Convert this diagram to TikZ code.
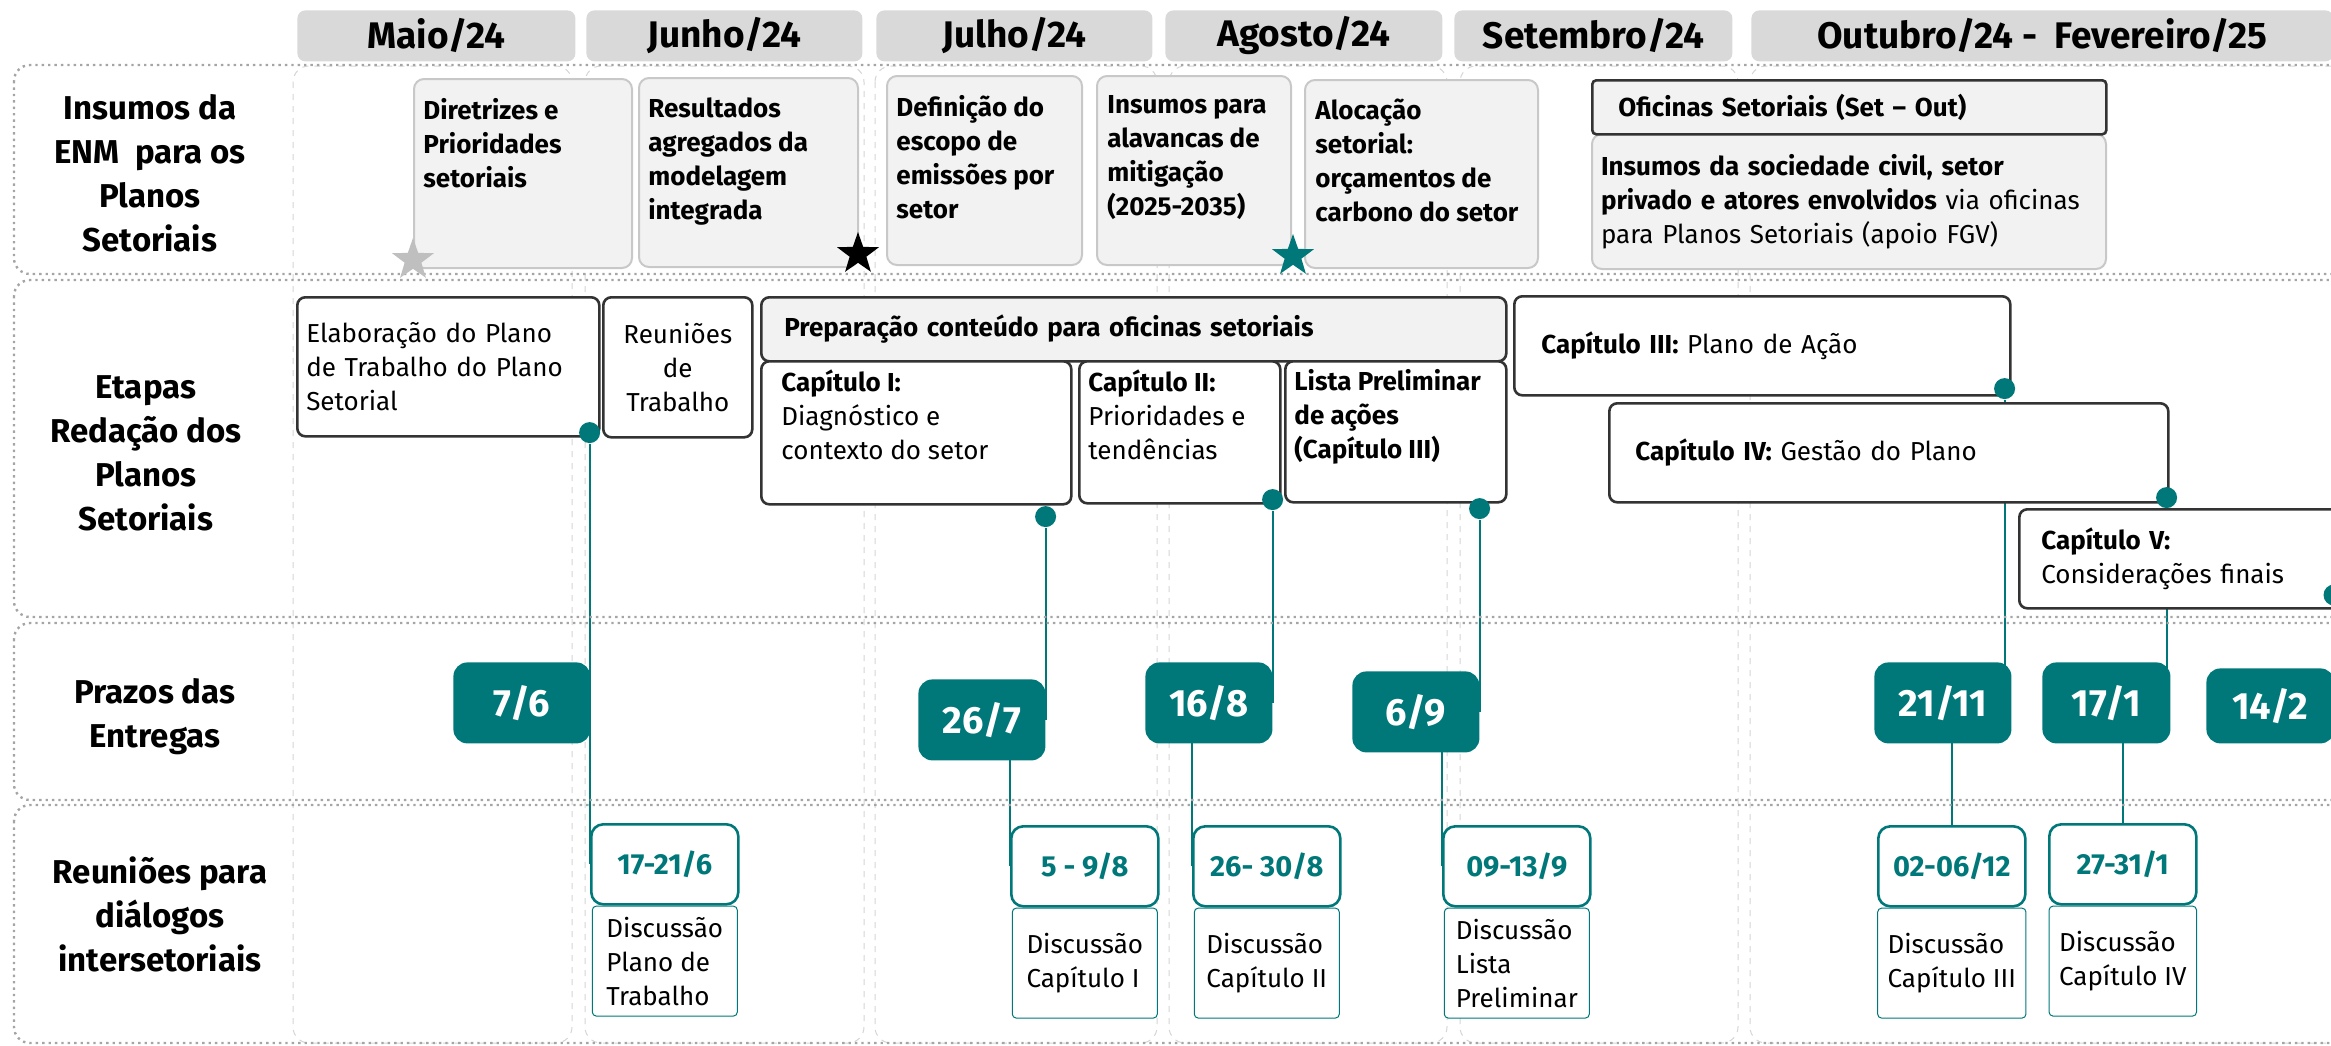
\documentclass[tikz,border=0pt]{standalone}
\usepackage{fontspec}
\setmainfont{Fira Sans}
\usetikzlibrary{shapes, positioning, backgrounds}
\definecolor{tealColor}{RGB}{0,120,122}
\definecolor{headColor}{RGB}{217,217,217}
\definecolor{boxColor}{RGB}{242,242,242}
\definecolor{insumoColor}{RGB}{200,200,200}
\definecolor{bandColor}{RGB}{165,165,165}
\definecolor{colColor}{RGB}{212,212,212}
\colorlet{drawColor}{black!80}
\colorlet{starGray}{black!25}
\newcommand{\monthFont}{\fontsize{18.5}{21}\selectfont\bfseries}
\newcommand{\rowFont}{\fontsize{16.5}{22}\selectfont\bfseries}
\newcommand{\bodyFont}{\fontsize{13}{17}\selectfont}
\newcommand{\dateFont}{\fontsize{19}{21}\selectfont\bfseries}
\newcommand{\meetFont}{\fontsize{14.5}{17}\selectfont\bfseries}
\tikzstyle{month}=[fill=headColor, rounded corners=4pt, anchor=north west, inner sep=0pt, minimum height=25.5pt, font=\monthFont]
\tikzstyle{band}=[draw=bandColor, dotted, line width=1.2pt, rounded corners=8pt]
\tikzstyle{mescol}=[draw=colColor, dashed, line width=0.5pt, rounded corners=8pt]
\tikzstyle{rowlabel}=[align=center, font=\rowFont]
\tikzstyle{insumo}=[fill=boxColor, draw=insumoColor, line width=1pt, rounded corners=5pt, anchor=north west, inner sep=0pt]
\tikzstyle{txt}=[anchor=north west, align=left, inner sep=0pt, font=\bodyFont]
\tikzstyle{intxt}=[txt, font=\bodyFont\bfseries]
\tikzstyle{etapa}=[draw=drawColor, line width=1.3pt, rounded corners=4pt, fill=white, anchor=north west, align=left, inner ysep=0pt, font=\bodyFont]
\tikzstyle{marco}=[circle, fill=tealColor, minimum size=10.5pt, inner sep=0pt]
\tikzstyle{prazo}=[fill=tealColor, rounded corners=7pt, text=white, font=\dateFont, anchor=north west, inner sep=0pt, minimum height=40.5pt]
\tikzstyle{meet}=[draw=tealColor, line width=1.3pt, fill=white, rounded corners=6pt, text=tealColor, font=\meetFont, anchor=north west, inner sep=0pt, minimum width=73.5pt, minimum height=40pt]
\tikzstyle{meetbody}=[draw=tealColor, line width=0.5pt, rounded corners=2pt, fill=white, font=\bodyFont, align=left, inner xsep=5pt, minimum width=72.5pt, minimum height=55pt]
\tikzstyle{link}=[draw=tealColor, line width=1pt]
\tikzstyle{estrela}=[star, star points=5, star point ratio=2.5, minimum size=22pt, inner sep=0pt]

\begin{document}
\begin{tikzpicture}[x=0.5pt, y=-0.5pt]
  \useasboundingbox (0,0) rectangle (2331,1045);
  % month columns and row bands
  \draw[mescol] (293,66) rectangle (572,1043);
  \draw[mescol] (585,66) rectangle (864,1043);
  \draw[mescol] (875,66) rectangle (1157,1043);
  \draw[mescol] (1169,66) rectangle (1447,1043);
  \draw[mescol] (1460,66) rectangle (1738,1043);
  \draw[mescol] (1750,66) rectangle (2360,1043);
  \draw[band] (14,65) rectangle (2360,274);
  \draw[band] (14,280) rectangle (2360,617);
  \draw[band] (14,623) rectangle (2360,800);
  \draw[band] (14,805) rectangle (2360,1043);

  % months
  \node[month, minimum width=139pt] (maio) at (297,10) {Maio/24};
  \node[month, minimum width=138pt] (junho) at (586,10) {Junho/24};
  \node[month, minimum width=138pt] (julho) at (876,10) {Julho/24};
  \node[month, minimum width=138.5pt] (agosto) at (1165,10) {Agosto/24};
  \node[month, minimum width=139pt] (setembro) at (1454,10) {Setembro/24};
  \node[month, minimum width=291pt] (outubro) at (1751,10) {Outubro/24 -~~Fevereiro/25};

  % row labels
  \node[rowlabel] (insumos) at (150,173) {Insumos da\\ENM~~para os\\Planos\\Setoriais};
  \node[rowlabel] (etapas) at (146,453) {Etapas\\Redação dos\\Planos\\Setoriais};
  \node[rowlabel] (prazos) at (155,717) {Prazos das\\Entregas};
  \node[rowlabel] (reunioes) at (160,914) {Reuniões para\\diálogos\\intersetoriais};

  % insumos da ENM
  \node[insumo, minimum width=109pt, minimum height=94.5pt] (dir) at (413,78) {};
  \node[intxt, below right=10pt and 5pt of dir.north west] (dirtxt) {Diretrizes e\\Prioridades\\setoriais};
  \node[insumo, minimum width=109.5pt, minimum height=94.5pt] (res) at (638,77) {};
  \node[intxt, below right=10pt and 5pt of res.north west] (restxt) {Resultados\\agregados da\\modelagem\\integrada};
  \node[insumo, minimum width=97.5pt, minimum height=94.5pt] (def) at (886,75) {};
  \node[intxt, below right=10pt and 5pt of def.north west] (deftxt) {Definição do\\escopo de\\emissões por\\setor};
  \node[insumo, minimum width=97pt, minimum height=94.5pt] (ins) at (1096,75) {};
  \node[intxt, below right=10pt and 5.5pt of ins.north west] (institution) {Insumos para\\alavancas de\\mitigação\\(2025-2035)};
  \node[insumo, minimum width=116.5pt, minimum height=94pt] (alo) at (1304,79) {};
  \node[intxt, below right=10pt and 5.5pt of alo.north west] (alotxt) {Alocação\\setorial:\\orçamentos de\\carbono do setor};
  \node[insumo, text width=248pt, inner xsep=4.5pt, minimum height=67.5pt, font=\bodyFont, align=left] (ofbody) at (1591,133)
    {\textbf{Insumos da sociedade civil, setor}\\\textbf{privado e atores envolvidos} via oficinas\\para Planos Setoriais (apoio FGV)};
  \node[insumo, draw=drawColor, line width=1.3pt, rounded corners=2pt, text width=231pt, inner xsep=13pt, minimum height=27pt, font=\bodyFont\bfseries, align=left] (ofhead) at (1591,79) {Oficinas Setoriais (Set -- Out)};
  \node[estrela, fill=starGray] (s1) at (413,260) {};
  \node[estrela, fill=black] (s2) at (858,254) {};
  \node[estrela, fill=tealColor] (s3) at (1293,256) {};

  % etapas de redacao
  \node[etapa, text width=142pt, inner xsep=4.5pt, minimum height=69.5pt] (ela) at (296,296) {Elaboração do Plano\\de Trabalho do Plano\\Setorial};
  \node[etapa, align=center, text width=65.5pt, inner xsep=4.5pt, minimum height=70pt] (reu) at (602,296) {Reuniões\\de\\Trabalho};
  \node[etapa, fill=boxColor, text width=349.5pt, inner xsep=11.5pt, minimum height=32pt, font=\bodyFont\bfseries] (prep) at (760,296) {Preparação conteúdo para oficinas setoriais};
  \node[etapa, minimum width=155pt, minimum height=71.5pt] (cap1) at (760,360) {};
  \node[txt, below right=4.5pt and 10.5pt of cap1.north west] (cap1txt) {\textbf{Capítulo I:}\\Diagnóstico e\\contexto do setor};
  \node[etapa, minimum width=100.5pt, minimum height=71pt] (cap2) at (1078,360) {};
  \node[txt, below right=4.5pt and 5pt of cap2.north west] (cap2txt) {\textbf{Capítulo II:}\\Prioridades e\\tendências};
  \node[etapa, minimum width=110.5pt, minimum height=70.5pt] (lis) at (1284,360) {};
  \node[intxt, below right=4.5pt and 5pt of lis.north west] (listxt) {Lista Preliminar\\de ações\\(Capítulo III)};
  \node[etapa, text width=221pt, inner xsep=13.5pt, minimum height=49.5pt] (cap3) at (1513,295) {\textbf{Capítulo III:} Plano de Ação};
  \node[etapa, text width=253.5pt, inner xsep=13pt, minimum height=49.5pt] (cap4) at (1608,402) {\textbf{Capítulo IV:} Gestão do Plano};
  \node[etapa, text width=143pt, inner xsep=11pt, minimum height=49.5pt] (cap5) at (2018,508) {\textbf{Capítulo V:}\\Considerações finais};
  \node[marco] (d1) at ([xshift=-5.5pt, yshift=2.5pt]ela.south east) {};
  \node[marco] (d2) at ([xshift=-13.5pt, yshift=-5.5pt]cap1.south east) {};
  \node[marco] (d3) at ([xshift=-4.5pt, yshift=2.5pt]cap2.south east) {};
  \node[marco] (d4) at ([xshift=-14pt, yshift=-2.5pt]lis.south east) {};
  \node[marco] (d5) at ([xshift=-3.5pt, yshift=4pt]cap3.south east) {};
  \node[marco] (d6) at ([xshift=-1.5pt, yshift=3pt]cap4.south east) {};
  \node[marco] (d7) at (2334,595) {};

  % prazos
  \node[prazo, minimum width=68.5pt] (p76) at (453,662) {7/6};
  \node[prazo, minimum width=63.5pt] (p267) at (918,679) {26/7};
  \node[prazo, minimum width=63.5pt] (p168) at (1145,662) {16/8};
  \node[prazo, minimum width=63.5pt] (p69) at (1352,671) {6/9};
  \node[prazo, minimum width=68.5pt] (p2111) at (1874,662) {21/11};
  \node[prazo, minimum width=64pt] (p171) at (2042,662) {17/1};
  \node[prazo, minimum width=64pt, minimum height=37.5pt] (p142) at (2206,668) {14/2};

  % reunioes
  \node[meet] (m1h) at (590,823) {17-21/6};
  \node[meetbody, below=0pt of m1h] (m1b) {Discussão\\Plano de\\Trabalho};
  \node[meet] (m2h) at (1010,825) {5 - 9/8};
  \node[meetbody, below=0pt of m2h] (m2b) {Discussão\\Capítulo I};
  \node[meet] (m3h) at (1192,825) {26- 30/8};
  \node[meetbody, below=0pt of m3h] (m3b) {Discussão\\Capítulo II};
  \node[meet] (m4h) at (1442,825) {09-13/9};
  \node[meetbody, below=0pt of m4h] (m4b) {Discussão\\Lista\\Preliminar};
  \node[meet] (m5h) at (1877,825) {02-06/12};
  \node[meetbody, below=0pt of m5h] (m5b) {Discussão\\Capítulo III};
  \node[meet] (m6h) at (2048,823) {27-31/1};
  \node[meetbody, below=0pt of m6h] (m6b) {Discussão\\Capítulo IV};

  \begin{scope}[on background layer]
    \draw[link] (d1) -- (d1 |- m1h.west);
    \draw[link] (d2) -- (d2 |- p267.center);
    \draw[link] (m2h.west |- p267.center) -- (m2h.west);
    \draw[link] (d3) -- (d3 |- p168.center);
    \draw[link] (m3h.west |- p168.center) -- (m3h.west);
    \draw[link] (d4) -- (d4 |- p69.center);
    \draw[link] (m4h.west |- p69.center) -- (m4h.west);
    \draw[link] (d5) -- (d5 |- p2111.center);
    \draw[link] (m5h.center |- p2111.center) -- (m5h.center);
    \draw[link] (d6) -- (d6 |- p171.center);
    \draw[link] (m6h.center |- p171.center) -- (m6h.center);
  \end{scope}
\end{tikzpicture}
\end{document}
